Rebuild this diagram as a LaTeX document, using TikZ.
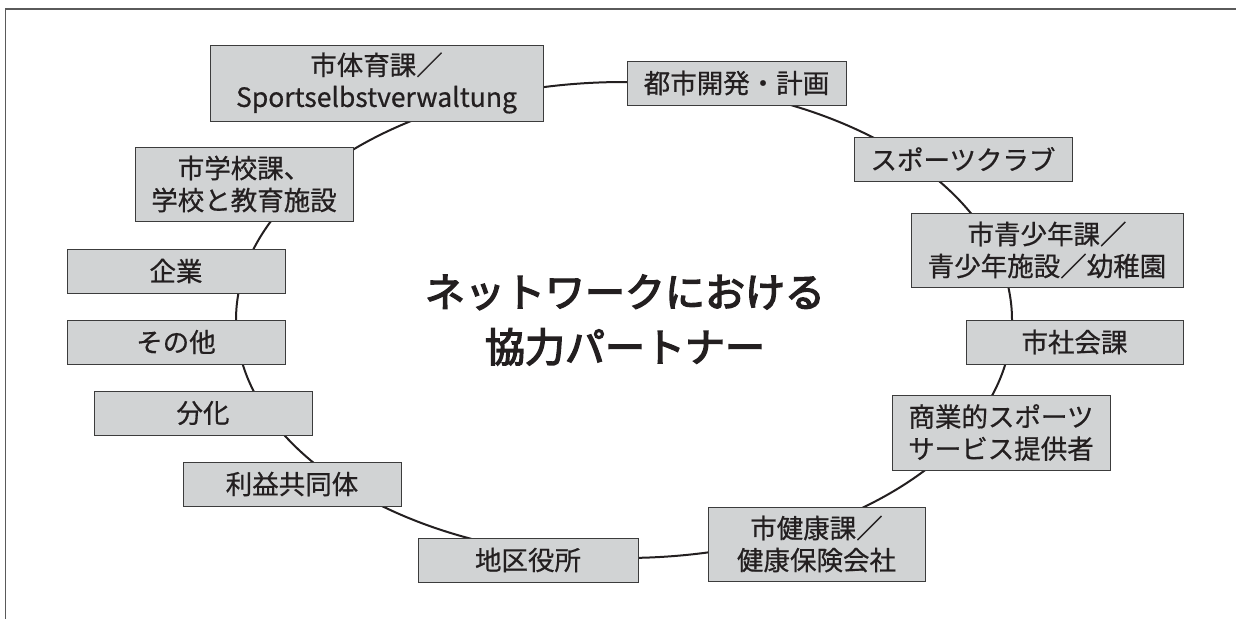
\documentclass[tikz,border=0pt]{standalone}
\usepackage{fontspec}
\setmainfont{Noto Sans CJK JP}
\newfontfamily\titlefont{Noto Sans CJK JP}[FakeBold=3.5]
\newfontfamily\boxfont{Noto Sans CJK JP}[FakeBold=0.6]
\definecolor{boxfill}{RGB}{209,211,212}
\definecolor{boxline}{RGB}{60,60,60}
\definecolor{ink}{RGB}{35,31,32}
\definecolor{frame}{RGB}{90,90,90}
\begin{document}
\begin{tikzpicture}[x=1pt,y=-1pt,
  pbox/.style={draw=boxline, fill=boxfill, line width=1pt, inner sep=0pt,
    font=\boxfont\fontsize{26.5}{32}\selectfont, text=ink, align=center,
    minimum height=44pt, minimum width=218pt},
  tall/.style={minimum height=74pt},
  ring/.style={draw=ink, line width=2pt},
  title/.style={font=\titlefont\fontsize{40}{55}\selectfont, text=ink, align=center}]
\useasboundingbox (0,0) rectangle (1236,619);
% frame
\draw[frame, line width=1.6pt] (1236,9) -- (5.5,9) -- (5.5,619);
% ring
\draw[ring] (624,320) ellipse [x radius=388, y radius=238];
% boxes
\node[pbox, tall, minimum width=333pt, minimum height=76pt] (sport) at (376.5,83) {市体育課／\\Sportselbstverwaltung};
\node[pbox, minimum width=219pt] (toshi) at (736.5,83) {都市開発・計画};
\node[pbox] (club) at (963,159) {スポーツクラブ};
\node[pbox, tall, minimum width=272pt] (youth) at (1047,250) {市青少年課／\\青少年施設／幼稚園};
\node[pbox, minimum width=217pt] (social) at (1074.5,342) {市社会課};
\node[pbox, tall, minimum height=75pt] (comm) at (1001,432.5) {商業的スポーツ\\サービス提供者};
\node[pbox, tall, minimum width=217pt] (health) at (816.5,544) {市健康課／\\健康保険会社};
\node[pbox, minimum width=220pt] (district) at (528,560) {地区役所};
\node[pbox] (interest) at (292,484) {利益共同体};
\node[pbox] (diff) at (203,413) {分化};
\node[pbox] (other) at (176,342) {その他};
\node[pbox] (company) at (176,271) {企業};
\node[pbox, tall] (school) at (244,184) {市学校課、\\学校と教育施設};
% title
\node[title] (center) at (625,320) {ネットワークにおける\\協力パートナー};
\end{tikzpicture}
\end{document}
